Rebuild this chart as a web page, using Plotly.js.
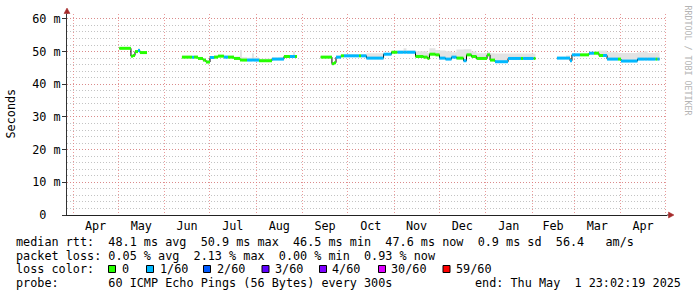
<!DOCTYPE html>
<html><head><meta charset="utf-8">
<script src="https://cdn.plot.ly/plotly-3.0.1.min.js"></script>
<style>html,body{margin:0;padding:0;background:#fff;} #chart{width:697px;height:297px;}</style>
</head><body><div id="chart"></div>
<script>
// ---- data (null row = gap in measurements) ----
const times = [
 "2024-05-01 20:00","2024-05-09 14:00","2024-05-11 00:00","2024-05-12 07:00","2024-05-14 07:00","2024-05-15 14:00","2024-05-20 07:00",null,
 "2024-06-12 14:00","2024-06-19 07:00","2024-06-20 14:00","2024-06-23 07:00","2024-06-26 14:00","2024-06-28 14:00","2024-07-01 07:00","2024-07-04 00:00","2024-07-06 14:00","2024-07-10 14:00","2024-07-13 07:00","2024-07-17 07:00","2024-07-21 07:00","2024-07-22 14:00","2024-07-26 00:00","2024-07-29 07:00","2024-07-30 14:00","2024-08-03 00:00","2024-08-07 00:00","2024-08-11 14:00","2024-08-15 14:00","2024-08-19 14:00","2024-08-23 14:00","2024-08-25 14:00","2024-08-27 00:00","2024-08-28 07:00",null,
 "2024-09-13 02:00","2024-09-20 14:00","2024-09-22 00:00","2024-09-23 07:00","2024-09-26 14:00","2024-09-28 14:00","2024-10-06 00:00","2024-10-08 14:00","2024-10-10 00:00","2024-10-13 14:00","2024-10-25 00:00","2024-10-30 07:00","2024-11-03 07:00","2024-11-07 07:00","2024-11-09 07:00","2024-11-15 07:00","2024-11-20 14:00","2024-11-23 07:00","2024-11-24 14:00","2024-11-28 14:00","2024-12-01 07:00","2024-12-05 07:00","2024-12-09 07:00","2024-12-12 14:00","2024-12-17 07:00","2024-12-19 07:00","2024-12-22 14:00","2024-12-26 00:00","2025-01-02 00:00","2025-01-04 00:00","2025-01-07 07:00","2025-01-16 00:00","2025-01-24 14:00","2025-01-26 00:00","2025-02-02 00:00","2025-02-03 07:00",null,
 "2025-02-17 14:00","2025-02-23 14:00","2025-02-26 07:00","2025-02-27 14:00","2025-03-05 00:00","2025-03-11 00:00","2025-03-14 07:00","2025-03-17 14:00","2025-03-20 07:00","2025-03-23 00:00","2025-03-30 07:00","2025-04-01 07:00","2025-04-12 07:00","2025-04-17 00:00","2025-04-19 00:00","2025-04-24 07:00","2025-04-25 14:00","2025-04-27 00:00"
];
// median rtt in ms
const median = [
 51.0,48.6,48.8,50.0,50.3,49.7,49.7,null,
 48.3,48.3,48.3,47.9,47.4,46.8,48.2,48.3,48.6,48.3,48.3,47.9,47.4,47.4,47.4,47.4,47.4,47.2,47.2,47.7,47.7,48.5,48.5,48.5,48.5,48.5,null,
 48.3,46.3,46.6,48.3,48.7,48.7,48.7,48.7,48.7,48.0,49.2,49.8,49.8,49.8,49.8,48.5,48.3,47.9,49.2,49.0,48.0,47.7,48.3,48.0,47.2,49.0,48.5,47.9,49.0,47.4,46.9,47.9,47.9,47.9,47.9,47.9,null,
 48.0,48.0,47.2,49.0,49.0,49.5,49.5,48.8,48.8,47.7,47.7,47.1,47.7,47.7,47.7,47.7,47.7,47.7
];
// index into lossColors (0 = 0/60, 1 = 1/60)
const lossIdx = [
 0,0,0,0,1,0,0,null,
 0,1,0,0,0,0,1,0,0,1,0,0,0,0,1,1,1,0,0,1,1,0,1,1,0,0,null,
 0,0,0,1,0,1,1,0,1,1,1,0,1,1,1,0,0,0,0,0,1,1,1,0,1,0,0,0,0,0,1,1,0,1,0,0,null,
 1,1,1,1,0,1,0,0,1,1,0,1,1,1,1,0,1,1
];
// upper edge of the smoke (ms)
const smokeMax = [
 51.3,49.0,49.2,50.4,51.0,50.1,50.0,null,
 48.7,48.7,48.8,48.3,47.9,47.3,48.6,48.8,49.0,48.8,48.8,48.4,50.5,48.3,48.1,49.5,48.2,47.8,47.9,48.2,48.3,48.9,48.9,50.0,48.9,48.9,null,
 48.7,46.8,47.0,48.7,49.0,49.1,49.1,49.1,49.1,49.5,49.6,50.2,50.3,51.0,50.3,50.1,50.1,49.6,51.0,50.5,50.3,50.1,49.8,50.6,50.7,50.7,50.0,49.5,49.9,49.5,49.4,49.4,49.4,49.4,49.3,49.3,null,
 48.4,48.8,47.8,49.3,49.3,49.9,50.0,50.3,50.3,49.8,49.6,49.6,49.8,50.2,49.6,49.7,49.7,49.7
];
const lossColors = ['#26ff00','#00b8ff','#0059ff','#5e00ff','#7e00ff','#dd00ff','#ff0000'];
const lossLabels = ['0','1/60','2/60','3/60','4/60','30/60','59/60'];
const yTickVals = [0,10,20,30,40,50,60];
const yTickText = ['0\u00a0\u00a0','10 m','20 m','30 m','40 m','50 m','60 m'];
const statsRtt  = "median rtt:  48.1 ms avg  50.9 ms max  46.5 ms min  47.6 ms now  0.9 ms sd  56.4   am/s";
const statsLoss = "packet loss: 0.05 % avg  2.13 % max  0.00 % min  0.93 % now";
const lossTitle = "loss color:";
const probeText = "probe:       60 ICMP Echo Pings (56 Bytes) every 300s";
const endText   = "end: Thu May  1 23:02:19 2025";
const watermark = "RRDTOOL / TOBI OETIKER";
const yTitle = "Seconds";
const xStart = "2024-03-27 23:02:19", xEnd = "2025-05-01 23:02:19";

// ---- layout helpers (pixel -> paper) ----
const W=697,H=297,ML=67,MR=30,MT=14,MB=82;
const PW=W-ML-MR, PH=H-MT-MB;
const px=x=>(x-ML)/PW, py=y=>(H-MB-y)/PH;
const MONO='DejaVu Sans Mono';
const FS=11.8;
const nb=s=>s.replace(/ /g,'\u00a0');

// ---- split into segments ----
const segs=[]; let cur=[];
for(let i=0;i<times.length;i++){
  if(median[i]===null){ if(cur.length) segs.push(cur); cur=[]; }
  else cur.push(i);
}
if(cur.length) segs.push(cur);

const traces=[];
segs.forEach(s=>{
  traces.push({x:s.map(i=>times[i]),y:s.map(i=>median[i]),mode:'lines',
    line:{width:0,shape:'hv'},hoverinfo:'skip'});
  traces.push({x:s.map(i=>times[i]),y:s.map(i=>smokeMax[i]),mode:'lines',
    line:{width:0,shape:'hv'},fill:'tonexty',fillcolor:'#e3e3e3',hoverinfo:'skip'});
});
traces.push({x:times,y:median,mode:'lines',line:{color:'#000',width:1,shape:'hv'},connectgaps:false,hoverinfo:'skip'});
lossColors.forEach((c,ci)=>{
  const xs=[],ys=[];
  segs.forEach(s=>{
    for(let k=0;k<s.length-1;k++){
      const i=s[k], j=s[k+1];
      if(lossIdx[i]===ci){ xs.push(times[i],times[j],null); ys.push(median[i],median[i],null); }
    }
  });
  if(xs.length) traces.push({x:xs,y:ys,mode:'lines',line:{color:c,width:3},connectgaps:false,hoverinfo:'skip'});
});

// ---- legend / footer ----
const ann=[];
const txt=(t,x,y,extra)=>Object.assign({text:nb(t),xref:'paper',yref:'paper',x:px(x),y:py(y),
  xanchor:'left',yanchor:'middle',showarrow:false,borderpad:0,borderwidth:0,
  font:{family:MONO,size:FS,color:'#000'}},extra||{});
ann.push(txt(statsRtt,16,241.5));
ann.push(txt(statsLoss,16,255.5));
ann.push(txt(lossTitle,16,269));
ann.push(txt(probeText,16,283));
ann.push(txt(endText,681,283,{xanchor:'right'}));
ann.push(txt(yTitle,10.5,114,{xanchor:'center',textangle:-90}));
ann.push(txt(watermark,687.5,60,{xanchor:'center',textangle:90,font:{family:MONO,size:8.3,color:'#b4b4b4'}}));

const boxX=[108.5,146.5,203.5,262,319.5,378.5,443];
const lblX=[122.3,159.7,217.3,275,332.3,390.7,455.7];
const shapes=[];
lossColors.forEach((c,i)=>{
  shapes.push({type:'rect',xref:'paper',yref:'paper',x0:px(boxX[i]),x1:px(boxX[i]+7),y0:py(265.5),y1:py(272.5),
    fillcolor:c,line:{color:'#000',width:1}});
  ann.push(txt(lossLabels[i],lblX[i],269));
});
// axis extensions + arrows
const AX='#a52a2a';
shapes.push({type:'line',xref:'paper',yref:'paper',x0:0,x1:0,y0:1,y1:py(12),line:{color:'#333',width:1}});
shapes.push({type:'path',xref:'paper',yref:'paper',
  path:`M ${px(67)} ${py(8)} L ${px(64)} ${py(13.5)} L ${px(70)} ${py(13.5)} Z`,fillcolor:AX,line:{color:AX,width:0.5}});
shapes.push({type:'line',xref:'paper',yref:'paper',x0:1,x1:px(670),y0:0,y1:0,line:{color:'#222',width:1}});
shapes.push({type:'path',xref:'paper',yref:'paper',
  path:`M ${px(674)} ${py(215)} L ${px(668.5)} ${py(212)} L ${px(668.5)} ${py(218)} Z`,fillcolor:AX,line:{color:AX,width:0.5}});

const MAJ='rgba(225,120,120,0.75)', MIN='rgba(170,170,170,0.7)';
const layout={
  width:W,height:H,margin:{l:ML,r:MR,t:MT,b:MB,pad:0},
  paper_bgcolor:'#fff',plot_bgcolor:'#fff',showlegend:false,
  xaxis:{type:'date',range:[xStart,xEnd],dtick:'M1',tick0:'2024-04-01',ticklabelmode:'period',tickformat:'%b',
    showgrid:true,gridcolor:MAJ,griddash:'1px,2px',gridwidth:1,zeroline:false,
    showline:true,linecolor:'#222',linewidth:1,ticks:'',fixedrange:true,
    tickfont:{family:MONO,size:FS,color:'#000'}},
  yaxis:{range:[0,61.5],tickvals:yTickVals,ticktext:yTickText,
    showgrid:true,gridcolor:MAJ,griddash:'1px,2px',gridwidth:1,zeroline:false,
    showline:true,linecolor:'#333',linewidth:1,ticks:'outside',ticklen:4,tickcolor:'#333',fixedrange:true,
    ticklabelstandoff:-1,
    tickfont:{family:MONO,size:FS,color:'#000'},
    minor:{dtick:2,showgrid:true,gridcolor:MIN,griddash:'1px,2px',gridwidth:1,ticks:''}},
  annotations:ann,shapes:shapes
};
Plotly.newPlot('chart',traces,layout,{staticPlot:true,displayModeBar:false});
</script></body></html>
